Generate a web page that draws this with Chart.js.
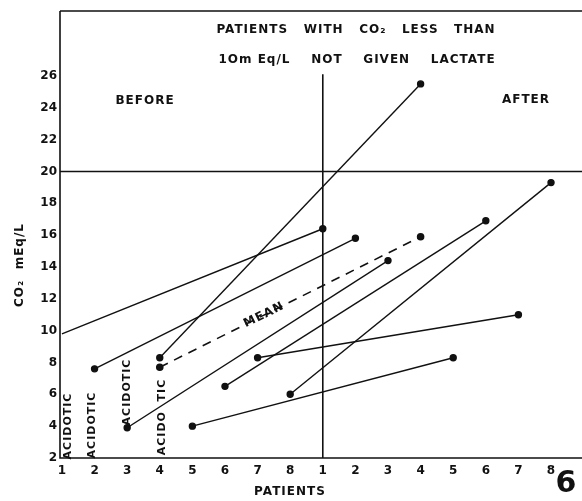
<!DOCTYPE html>
<html>
<head>
<meta charset="utf-8">
<script src="https://cdn.jsdelivr.net/npm/chart.js@4.4.1/dist/chart.umd.min.js"></script>
<style>
  html, body { margin: 0; padding: 0; background: #fff; }
  #wrap { width: 582px; height: 501px; }
</style>
</head>
<body>
<div id="wrap"><canvas id="myChart"></canvas></div>
<script>
// values (CO2 mEq/L)
const patients = [1, 2, 3, 4, 5, 6, 7, 8];
const before = [9.8, 7.6, 3.9, 8.3, 4.0, 6.5, 8.3, 6.0];
const after = [16.4, 15.8, 14.4, 25.5, 8.3, 16.9, 11.0, 19.3];
const meanPos = [3, 11];
const meanVals = [7.7, 15.9];
const yTicks = [2, 4, 6, 8, 10, 12, 14, 16, 18, 20, 22, 24, 26];
const normalLevel = 20;
const dividerTop = 26.1;

const ink = '#111';
const font = "'DejaVu Sans', sans-serif";

const datasets = patients.map((p, i) => ({
    label: 'Patient ' + p,
    data: [{ x: i, y: before[i] }, { x: 8 + i, y: after[i] }],
    borderColor: ink,
    backgroundColor: ink,
    borderWidth: 1.4,
    pointRadius: i === 0 ? [0, 3] : 3,
    tension: 0
}));
datasets.push({
    label: 'Mean',
    data: meanPos.map((x, i) => ({ x: x, y: meanVals[i] })),
    borderColor: ink,
    backgroundColor: ink,
    borderWidth: 1.6,
    borderDash: [9, 7],
    pointRadius: 3
});

const decorations = {
    id: 'decorations',
    beforeDatasetsDraw(chart) {
        const c = chart.ctx, a = chart.chartArea;
        const xs = chart.scales.x, ys = chart.scales.y;
        c.save();
        c.strokeStyle = ink;
        c.lineWidth = 1.6;
        c.beginPath();
        c.moveTo(a.left, a.top); c.lineTo(a.right, a.top);
        c.moveTo(a.left, a.top); c.lineTo(a.left, a.bottom);
        c.lineTo(a.right, a.bottom);
        const y20 = ys.getPixelForValue(normalLevel);
        c.moveTo(a.left, y20); c.lineTo(a.right, y20);
        const xd = xs.getPixelForValue(8);
        c.moveTo(xd, ys.getPixelForValue(dividerTop)); c.lineTo(xd, a.bottom);
        c.stroke();
        c.restore();
    },
    afterDraw(chart) {
        const c = chart.ctx;
        c.save();
        c.fillStyle = ink;
        c.textAlign = 'center';
        c.textBaseline = 'middle';
        c.font = 'bold 12px ' + font;
        c.letterSpacing = '1px';
        c.fillText('PATIENTS   WITH   CO\u2082   LESS   THAN', 356, 30);
        c.fillText('1Om Eq/L    NOT    GIVEN    LACTATE', 357, 60);
        c.fillText('BEFORE', 145, 101);
        c.fillText('AFTER', 526, 100);
        c.fillText('PATIENTS', 290, 492);

        c.save();
        c.translate(264, 315);
        c.rotate(-26 * Math.PI / 180);
        c.fillText('MEAN', 0, 0);
        c.restore();

        c.save();
        c.translate(20, 265);
        c.rotate(-Math.PI / 2);
        c.fillText('CO\u2082  mEq/L', 0, 0);
        c.restore();

        c.font = 'bold 11px ' + font;
        const acid = [[68, 426, 'ACIDOTIC'], [92, 425, 'ACIDOTIC'], [127, 392, 'ACIDOTIC'], [162, 417, 'ACIDO  TIC']];
        acid.forEach(([x, y, t]) => {
            c.save();
            c.translate(x, y);
            c.rotate(-Math.PI / 2);
            c.fillText(t, 0, 0);
            c.restore();
        });

        c.letterSpacing = '0px';
        c.font = 'bold 30px ' + font;
        c.fillText('6', 566, 484);
        c.restore();
    }
};

new Chart(document.getElementById('myChart'), {
    type: 'scatter',
    data: { datasets: datasets },
    options: {
        responsive: true,
        maintainAspectRatio: false,
        animation: false,
        showLine: true,
        layout: { autoPadding: false, padding: { top: 11, right: 0, left: 0, bottom: 0 } },
        plugins: { legend: { display: false }, tooltip: { enabled: false } },
        scales: {
            x: {
                type: 'linear',
                min: -0.06,
                max: 15.95,
                afterFit: s => { s.height = 43; s.paddingLeft = 0; s.paddingRight = 0; },
                afterBuildTicks: s => { s.ticks = Array.from({ length: 16 }, (_, i) => ({ value: i })); },
                grid: { display: false, drawTicks: false },
                border: { display: false },
                ticks: {
                    color: ink,
                    padding: 6,
                    font: { family: font, size: 12, weight: 'bold' },
                    callback: v => (v < 8 ? v + 1 : v - 7)
                }
            },
            y: {
                min: 2,
                max: 30.08,
                afterFit: s => { s.width = 60; s.paddingTop = 0; s.paddingBottom = 0; },
                afterBuildTicks: s => { s.ticks = yTicks.map(v => ({ value: v })); },
                grid: { display: false, drawTicks: false },
                border: { display: false },
                ticks: {
                    color: ink,
                    padding: 3,
                    font: { family: font, size: 12, weight: 'bold' }
                }
            }
        }
    },
    plugins: [decorations]
});
</script>
</body>
</html>
